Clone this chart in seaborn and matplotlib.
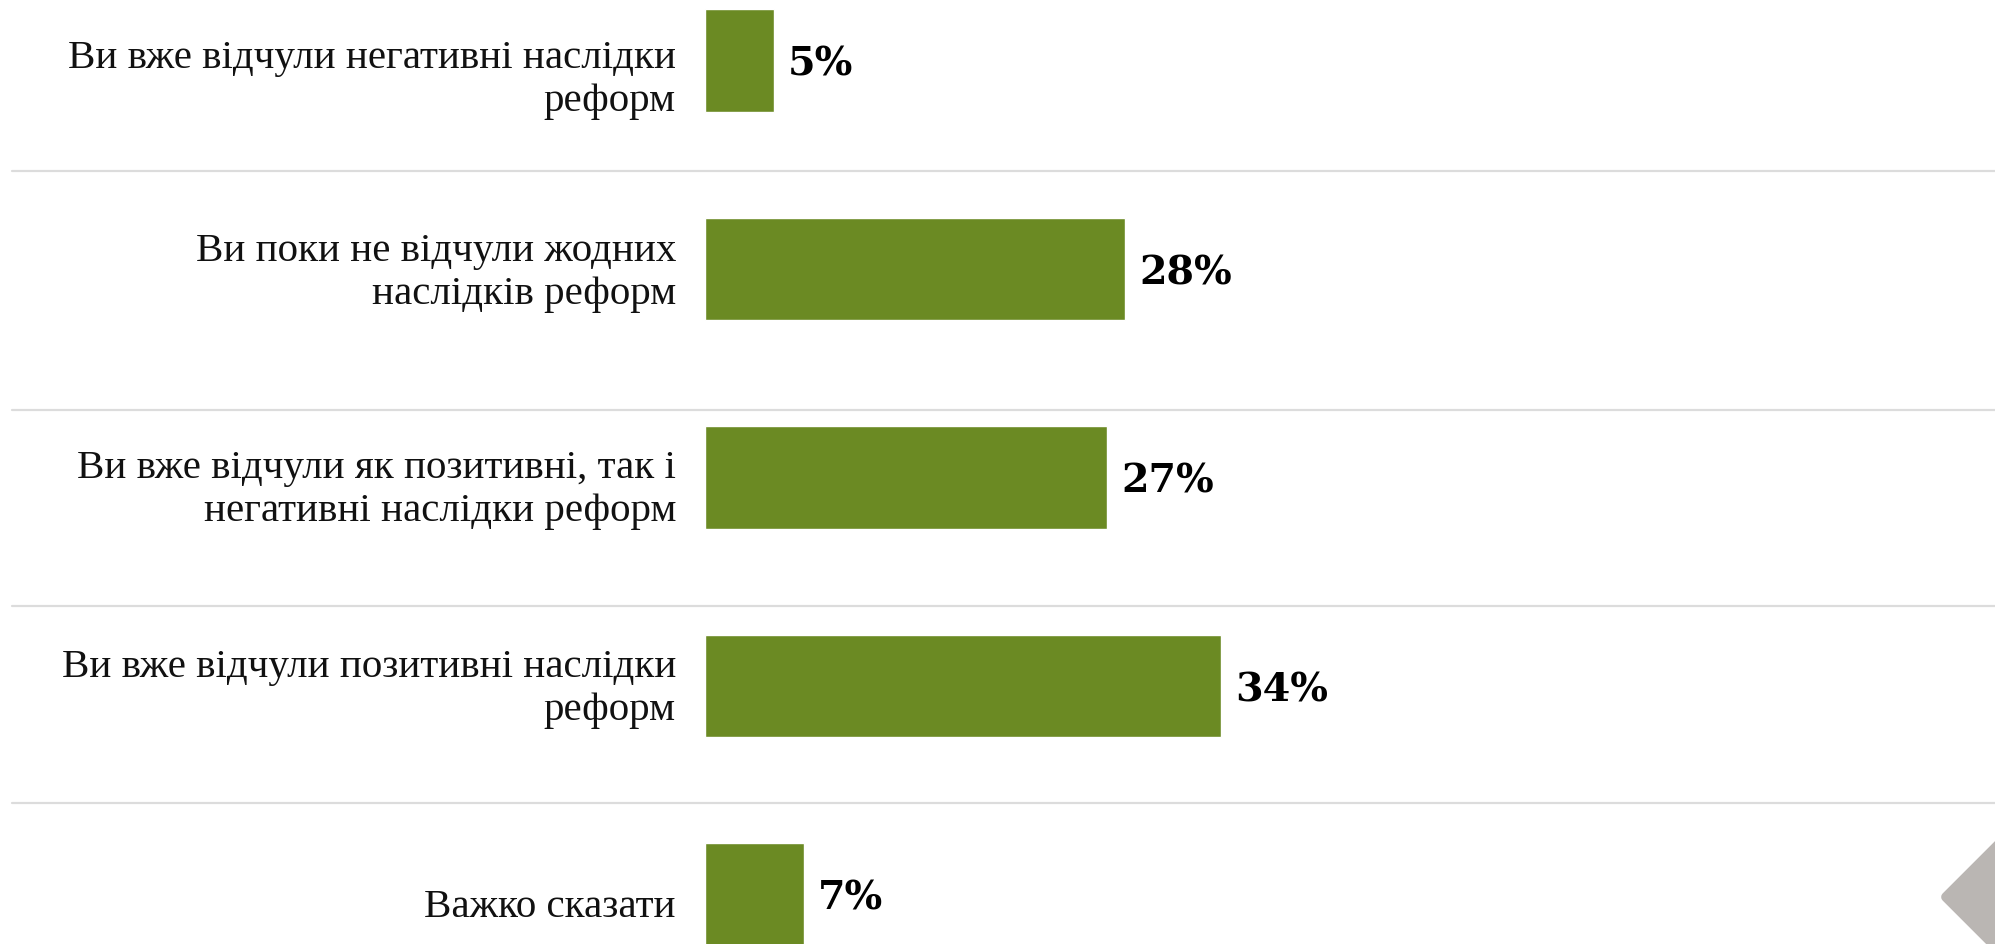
import matplotlib
matplotlib.use("Agg")
import matplotlib.pyplot as plt
import seaborn as sns
import pandas as pd
from matplotlib.patches import Polygon

categories = [
    "Ви вже відчули негативні наслідки\nреформ",
    "Ви поки не відчули жодних\nнаслідків реформ",
    "Ви вже відчули як позитивні, так і\nнегативні наслідки реформ",
    "Ви вже відчули позитивні наслідки\nреформ",
    "Важко сказати",
]
values = [4.6, 28.0, 26.8, 34.4, 6.6]
value_labels = ["5%", "28%", "27%", "34%", "7%"]

W, H, DPI = 1995, 944, 100
sns.set_theme(style="white")
plt.rcParams["font.family"] = ["Liberation Serif", "DejaVu Serif"]

fig = plt.figure(figsize=(W / DPI, H / DPI), dpi=DPI)
fig.patch.set_facecolor("white")
ax_left = 705 / W
ax = fig.add_axes([ax_left, 0, 1 - ax_left, 1])

df = pd.DataFrame({"cat": categories, "val": values})
sns.barplot(data=df, x="val", y="cat", orient="h", color="#6b8a23",
            width=0.494, saturation=1, ax=ax)

row_px = 208.5
top_px = 60.5
ax.set_xlim(0, (W - 705) / 15.0)
ax.set_ylim((H - top_px) / row_px, -top_px / row_px)
ax.set_axis_off()

# category labels (small per-row vertical nudges as in the source layout)
label_nudge = [0.095, 0.02, 0.06, 0.015, 0.06]
for i, c in enumerate(categories):
    ax.text(-29 / 15.0, i + label_nudge[i], c, ha="right", va="center", fontsize=29.5,
            color="#111111", linespacing=1.22)

# value labels
for i, (v, lab) in enumerate(zip(values, value_labels)):
    ax.text(v + 14 / 15.0, i + 0.02, lab, ha="left", va="center", fontsize=28.5,
            fontweight="bold", family=["DejaVu Serif"], color="#000000")

# separators
sep_px = [171, 410, 606, 803]
xmin_ax = (12 - 705) / (W - 705)
for s in sep_px:
    y = (s - top_px) / row_px
    ax.axhline(y, xmin=xmin_ax, xmax=1, color="#dcdcdc", lw=1.6, clip_on=False)

# navigation diamond at bottom right
tip_x, tip_y = 1946, 897
d = 110
verts = [(tip_x, tip_y), (tip_x + d, tip_y - d), (tip_x + 2 * d, tip_y), (tip_x + d, tip_y + d)]
verts_fig = [(x / W, 1 - y / H) for x, y in verts]
fig.patches.append(Polygon(verts_fig, closed=True, transform=fig.transFigure,
                           facecolor="#bab6b3", edgecolor="#bab6b3", lw=7,
                           joinstyle="round", zorder=5))

fig.savefig("out.png", dpi=DPI, facecolor="white")
